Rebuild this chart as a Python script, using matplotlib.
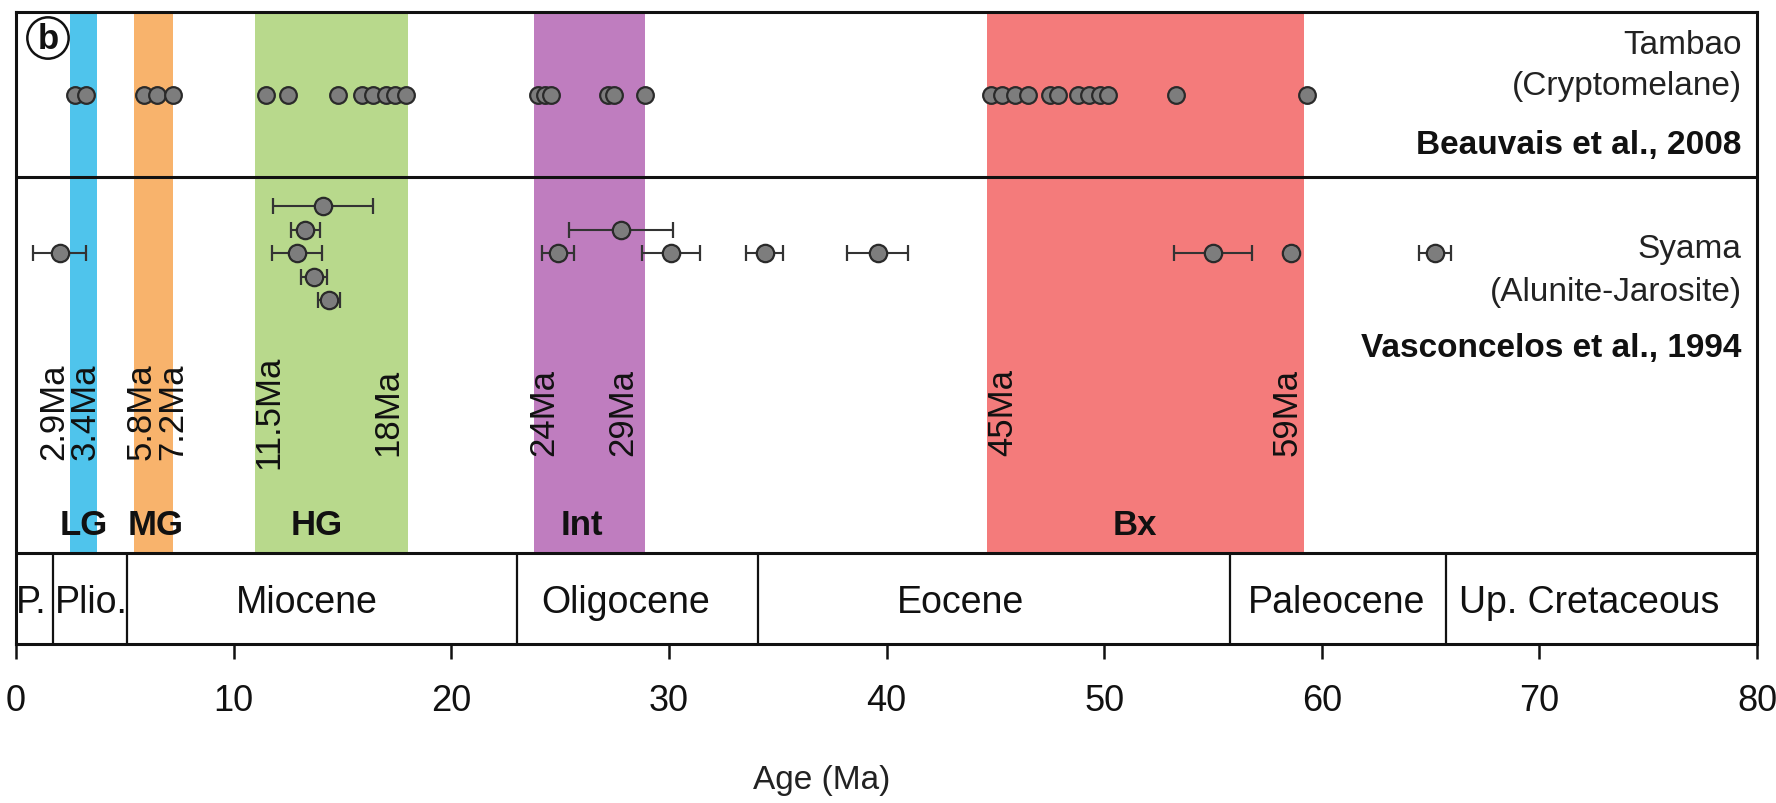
import matplotlib
matplotlib.use("Agg")
import matplotlib.pyplot as plt
from matplotlib import font_manager as fm

# ---------------- data ----------------
# weathering episodes (band edges in Ma), labels and colours
band_names = ["LG", "MG", "HG", "Int", "Bx"]
band_start = [2.5, 5.4, 11.0, 23.8, 44.6]
band_end = [3.7, 7.2, 18.0, 28.9, 59.2]
band_colors = ["#4fc4ec", "#f8b36c", "#b8d98c", "#bf7dbf", "#f47b7b"]
band_label_x = [3.1, 6.4, 13.8, 26.0, 51.4]

# age limit labels (rotated)
limit_text = ["2.9Ma", "3.4Ma", "5.8Ma", "7.2Ma", "11.5Ma", "18Ma", "24Ma", "29Ma", "45Ma", "59Ma"]
limit_x = [1.75, 3.2, 5.75, 7.2, 11.6, 17.1, 24.25, 27.9, 45.35, 58.4]

# Tambao cryptomelane ages (Beauvais et al., 2008)
tambao_age = [2.7, 3.2, 5.9, 6.5, 7.2, 11.5, 12.5, 14.8, 15.9, 16.4, 17.0, 17.4, 17.9,
              24.0, 24.3, 24.6, 27.2, 27.5, 28.9,
              44.8, 45.3, 45.9, 46.5, 47.5, 47.9, 48.8, 49.3, 49.8, 50.2, 53.3, 59.3]

# Syama alunite-jarosite ages (Vasconcelos et al., 1994)
syama_age = [2.0, 14.1, 13.3, 12.9, 13.7, 14.4, 24.9, 27.8, 30.1, 34.4, 39.6, 55.0, 58.6, 65.2]
syama_err = [1.2, 2.3, 0.65, 1.15, 0.6, 0.5, 0.75, 2.4, 1.35, 0.85, 1.4, 1.8, 0.2, 0.75]
syama_row = [0, -2, -1, 0, 1, 2, 0, -1, 0, 0, 0, 0, 0, 0]

# geological epochs
epoch_names = ["P.", "Plio.", "Miocene", "Oligocene", "Eocene", "Paleocene", "Up. Cretaceous"]
epoch_bounds = [0, 1.7, 5.1, 23.0, 34.1, 55.8, 65.7, 80]
epoch_label_x = [0.7, 3.45, 13.35, 28.0, 43.4, 60.7, 72.3]

x_ticks = [0, 10, 20, 30, 40, 50, 60, 70, 80]

# ---------------- style ----------------
names = {f.name for f in fm.fontManager.ttflist}
BASE = "Liberation Sans" if "Liberation Sans" in names else "DejaVu Sans"
plt.rcParams["font.family"] = [BASE, "DejaVu Sans"]

W, H = 1776, 804
fig = plt.figure(figsize=(W / 100, H / 100), dpi=100)
L, R, T, B = 16, 1757, 13, 645        # axes box in pixels
Y_DIV1, Y_DIV2 = 178, 554             # panel dividers (pixels from top)
Y_TAMBAO = 96
Y_SYAMA = 254
ROW_STEP = 23.5

ax = fig.add_axes([L / W, 1 - B / H, (R - L) / W, (B - T) / H])
ax.set_xlim(0, 80)
ax.set_ylim(B, T)

# bands
for x0, x1, c in zip(band_start, band_end, band_colors):
    ax.fill_between([x0, x1], T, Y_DIV2, color=c, lw=0, zorder=0)

# panel dividers
ax.axhline(Y_DIV1, color="#111111", lw=2.2, zorder=3)
ax.axhline(Y_DIV2, color="#111111", lw=2.2, zorder=3)
ax.vlines(epoch_bounds[1:-1], Y_DIV2, B, color="#111111", lw=1.6, zorder=3)

# Tambao points
ax.plot(tambao_age, [Y_TAMBAO] * len(tambao_age), "o", ms=12, mfc="#7d7d7d",
        mec="#2a2a2a", mew=1.6, zorder=4, ls="none")

# Syama points with error bars
sy_y = [Y_SYAMA + r * ROW_STEP for r in syama_row]
ax.errorbar(syama_age, sy_y, xerr=syama_err, fmt="o", ms=12.5, mfc="#7d7d7d",
            mec="#2a2a2a", mew=1.6, ecolor="#333333", elinewidth=1.5,
            capsize=6, capthick=1.5, zorder=4)

# rotated limit labels
for t, x in zip(limit_text, limit_x):
    ax.text(x, 412, t, rotation=90, ha="center", va="center", fontsize=25,
            color="#111111", zorder=5)

# band labels
for t, x in zip(band_names, band_label_x):
    ax.text(x, 525, t, ha="center", va="center", fontsize=25, fontweight="bold",
            color="#111111", zorder=5)

# epoch labels
for t, x in zip(epoch_names, epoch_label_x):
    ax.text(x, 603, t, ha="center", va="center", fontsize=27, color="#111111", zorder=5)

# site labels
XR = 79.3
ax.text(XR, 45, "Tambao", ha="right", va="center", fontsize=24, color="#222222")
ax.text(XR, 86, "(Cryptomelane)", ha="right", va="center", fontsize=24, color="#222222")
ax.text(XR, 145, "Beauvais et al., 2008", ha="right", va="center", fontsize=24,
        fontweight="bold", color="#111111")
ax.text(XR, 249, "Syama", ha="right", va="center", fontsize=24, color="#222222")
ax.text(XR, 292, "(Alunite-Jarosite)", ha="right", va="center", fontsize=24, color="#222222")
ax.text(XR, 348, "Vasconcelos et al., 1994", ha="right", va="center", fontsize=24,
        fontweight="bold", color="#111111")

# panel letter
ax.text(1.47, 39, "b", ha="center", va="center", fontsize=25, fontweight="bold",
        color="#111111", zorder=6,
        bbox=dict(boxstyle="circle,pad=0.12", fc="white", ec="#111111", lw=1.8))

# axes styling
for s in ax.spines.values():
    s.set_linewidth(2.2)
    s.set_color("#111111")
ax.set_yticks([])
ax.set_xticks(x_ticks)
ax.set_xticklabels([str(v) for v in x_ticks])
ax.tick_params(axis="x", direction="out", length=11, width=1.8, labelsize=26,
               pad=17, colors="#111111")
ax.set_xlabel("Age (Ma)", fontsize=24, color="#222222")
ax.xaxis.set_label_coords(0.4625, -0.19)

fig.savefig("out.png", dpi=100)
